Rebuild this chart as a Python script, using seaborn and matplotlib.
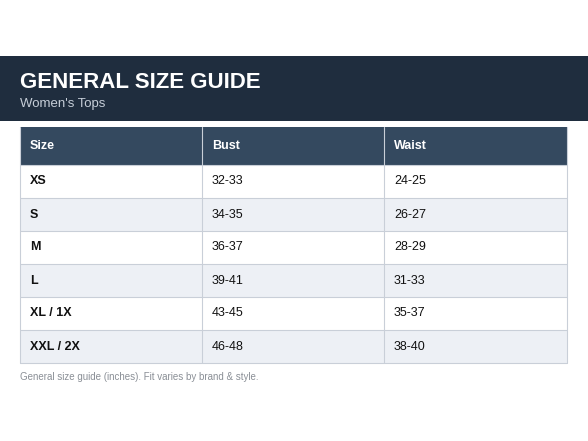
import matplotlib
matplotlib.use("Agg")
import matplotlib.pyplot as plt
from matplotlib.patches import Rectangle
import seaborn as sns

TITLE = "GENERAL SIZE GUIDE"
SUBTITLE = "Women's Tops"
FOOTNOTE = "General size guide (inches). Fit varies by brand & style."
COLUMNS = ["Size", "Bust", "Waist"]
SIZES = ["XS", "S", "M", "L", "XL / 1X", "XXL / 2X"]
BUST = ["32-33", "34-35", "36-37", "39-41", "43-45", "46-48"]
WAIST = ["24-25", "26-27", "28-29", "31-33", "35-37", "38-40"]

BAND = "#1f2d3e"
HEAD = "#34495f"
STRIPE = "#edf0f5"
GRID = "#c9cfd8"

sns.set_theme(style="white")
plt.rcParams["font.family"] = ["Liberation Sans", "DejaVu Sans"]

fig = plt.figure(figsize=(5.88, 4.41), dpi=100)
ax = fig.add_axes([0, 0, 1, 1])
ax.set_xlim(0, 588)
ax.set_ylim(441, 0)
ax.axis("off")

# header band
ax.add_patch(Rectangle((0, 56), 588, 65, color=BAND, lw=0))
ax.text(20, 82, TITLE, color="white", fontsize=16, fontweight="bold", va="center")
ax.text(20, 104, SUBTITLE, color="#c6ced8", fontsize=9.5, va="center")

col_x = [20, 202, 384, 567]
top, head_h, row_h = 127, 38, 33

ax.add_patch(Rectangle((col_x[0], top), col_x[-1] - col_x[0], head_h, color=HEAD, lw=0))
for j, name in enumerate(COLUMNS):
    ax.text(col_x[j] + 10, top + head_h / 2, name, color="white", fontsize=9,
            fontweight="bold", va="center")

rows = list(zip(SIZES, BUST, WAIST))
for i, row in enumerate(rows):
    y0 = top + head_h + i * row_h
    ax.add_patch(Rectangle((col_x[0], y0), col_x[-1] - col_x[0], row_h,
                           facecolor=STRIPE if i % 2 else "white", lw=0))
    for j, val in enumerate(row):
        ax.text(col_x[j] + 10, y0 + row_h / 2, val, color="#111111", fontsize=9,
                fontweight="bold" if j == 0 else "normal", va="center")

bottom = top + head_h + len(rows) * row_h
for i in range(len(rows) + 1):
    y = top + head_h + i * row_h
    ax.plot([col_x[0], col_x[-1]], [y, y], color=GRID, lw=0.8)
for x in col_x:
    ax.plot([x, x], [top, bottom], color=GRID, lw=0.8)

ax.text(20, 377, FOOTNOTE, color="#8a8f96", fontsize=7, va="center")

fig.savefig("out.png", dpi=100)
